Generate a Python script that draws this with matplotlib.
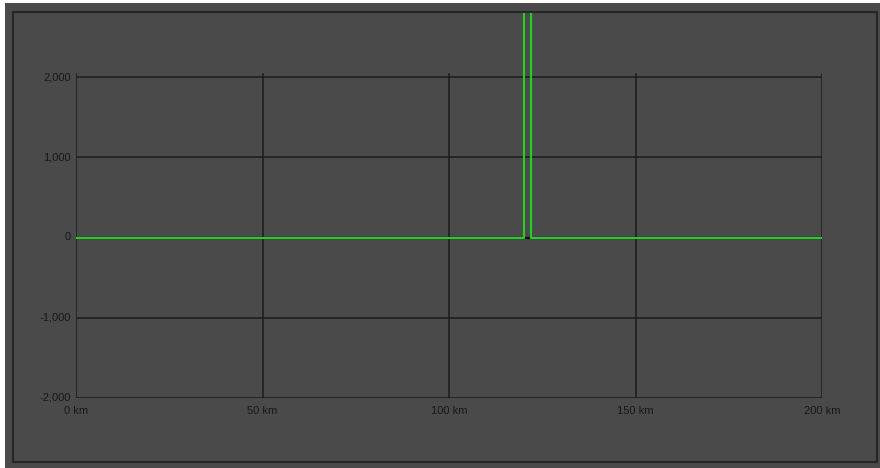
import matplotlib
matplotlib.use("Agg")
import matplotlib.pyplot as plt
from matplotlib.patches import Rectangle

# Profile data (distance along route in km, value)
distance_km = [0, 120, 120, 122, 122, 200]
profile_values = [0, 0, 6000, 6000, 0, 0]
baseline_km = [0, 200]
baseline_values = [0, 0]

x_ticks = [0, 50, 100, 150, 200]
x_tick_labels = ["0 km", "50 km", "100 km", "150 km", "200 km"]
y_ticks = [-2000, -1000, 0, 1000, 2000]
y_tick_labels = ["-2,000", "-1,000", "0", "1,000", "2,000"]

W, H = 880, 468
fig = plt.figure(figsize=(W / 100, H / 100), dpi=100, facecolor="white")

# Panel background and frame (pixel coordinates -> figure fraction)
def px(x, y):
    return x / W, 1 - y / H

bg_x, bg_y = px(5, 468)
fig.patches.append(Rectangle((bg_x, bg_y), (W - 5) / W, (468 - 3) / H,
                             transform=fig.transFigure, facecolor="#4a4a4a",
                             edgecolor="none", zorder=-2))
fr_x, fr_y = px(13, 462)
fig.patches.append(Rectangle((fr_x, fr_y), (877 - 13) / W, (462 - 12) / H,
                             transform=fig.transFigure, facecolor="none",
                             edgecolor="#262626", linewidth=1.5, zorder=-1))

# Plot area: x 76..822 px, y -2000 at 398 px, top clipped at frame (13 px)
left, right = 76, 822
y_bottom_px, y_2000_px, y_top_px = 398, 77, 13
px_per_unit = (y_bottom_px - y_2000_px) / 4000.0
y_top_val = 2000 + (y_2000_px - y_top_px) / px_per_unit

ax = fig.add_axes([left / W, (H - y_bottom_px) / H, (right - left) / W,
                   (y_bottom_px - y_top_px) / H])
ax.set_zorder(5)
ax.set_facecolor("none")
ax.patch.set_alpha(0)
ax.set_xlim(0, 200)
ax.set_ylim(-2000, y_top_val)
for s in ax.spines.values():
    s.set_visible(False)
ax.set_xticks([])
ax.set_yticks([])

grid_color = "#1c1c1c"
ext = 4 / px_per_unit
for yv in y_ticks:
    ax.plot([0, 200], [yv, yv], color=grid_color, lw=1.1, zorder=1,
            solid_capstyle="butt")
for xv in x_ticks:
    ax.plot([xv, xv], [-2000, 2000 + ext], color=grid_color, lw=1.1, zorder=1,
            solid_capstyle="butt")

ax.plot(baseline_km, baseline_values, color="#111111", lw=1.6, zorder=2)
ax.plot(distance_km, profile_values, color="#22d022", lw=1.5, zorder=3)

text_kw = dict(fontsize=8, color="#181818", family=["Liberation Sans", "DejaVu Sans"])
for yv, lab in zip(y_ticks, y_tick_labels):
    ax.annotate(lab, xy=(0, yv), xycoords="data", xytext=(-5, 0),
                textcoords="offset pixels", ha="right", va="center", **text_kw)
for xv, lab in zip(x_ticks, x_tick_labels):
    ax.annotate(lab, xy=(xv, -2000), xycoords="data", xytext=(0, -13),
                textcoords="offset pixels", ha="center", va="center", **text_kw)

fig.savefig("out.png", dpi=100, facecolor="white")
